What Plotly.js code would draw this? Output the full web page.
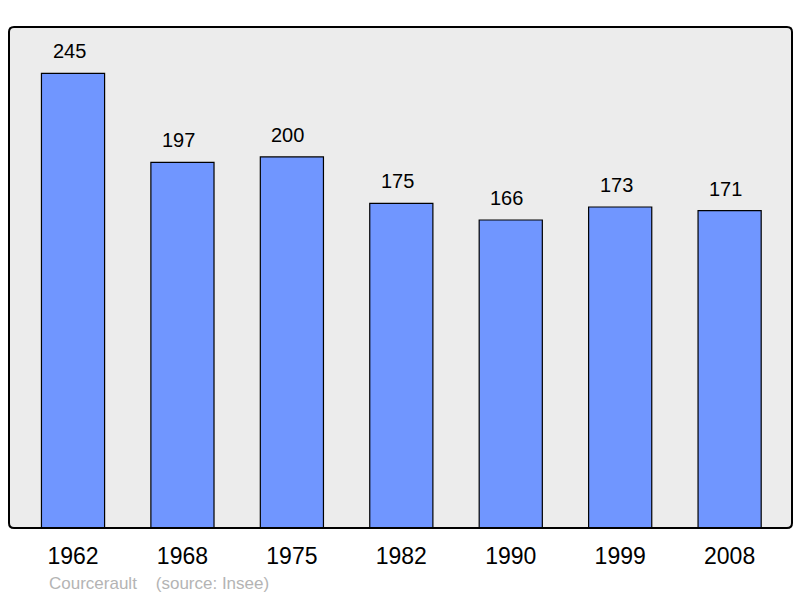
<!DOCTYPE html>
<html>
<head>
<meta charset="utf-8">
<script src="https://cdn.plot.ly/plotly-3.0.1.min.js"></script>
<style>html,body{margin:0;padding:0;background:#fff;}#chart{width:800px;height:598px;}</style>
</head>
<body>
<div id="chart"></div>
<script>
const years = ["1962", "1968", "1975", "1982", "1990", "1999", "2008"];
const population = [245, 197, 200, 175, 166, 173, 171];
const caption = "Courcerault\u00a0\u00a0\u00a0\u00a0(source: Insee)";

const W = 783, H = 501, r = 5;
const rx = r / W, ry = r / H;
const framePath = `M ${rx} 0 L ${1-rx} 0 Q 1 0 1 ${ry} L 1 ${1-ry} Q 1 1 ${1-rx} 1 L ${rx} 1 Q 0 1 0 ${1-ry} L 0 ${ry} Q 0 0 ${rx} 0 Z`;

const trace = {
  type: 'bar',
  x: years,
  y: population,
  width: 0.577,
  marker: {color: '#7096ff', line: {color: '#000000', width: 1.2}},
  hoverinfo: 'none'
};

const annotations = years.map((yr, i) => ({
  x: i, y: population[i], xref: 'x', yref: 'y',
  text: String(population[i]), showarrow: false,
  yanchor: 'middle', yshift: 22, xshift: -4,
  font: {family: 'Liberation Sans, Arial, sans-serif', size: 20, color: '#000'}
}));
annotations.push({
  xref: 'paper', yref: 'paper', x: 0.0485, y: -0.1098,
  xanchor: 'left', yanchor: 'middle', showarrow: false,
  text: caption,
  font: {family: 'Liberation Sans, Arial, sans-serif', size: 17, color: '#b4b4b4'}
});

const layout = {
  width: 800, height: 598,
  margin: {l: 9, r: 8, t: 27, b: 70, pad: 0},
  paper_bgcolor: '#ffffff',
  plot_bgcolor: '#ececec',
  showlegend: false,
  xaxis: {
    type: 'category', range: [-0.585, 6.57],
    showgrid: false, zeroline: false, showline: false, ticks: '',
    tickfont: {family: 'Liberation Sans, Arial, sans-serif', size: 23, color: '#000'},
    ticklabelstandoff: 12
  },
  yaxis: {
    range: [0, 270], showgrid: false, zeroline: false, showline: false,
    showticklabels: false, ticks: ''
  },
  shapes: [{
    type: 'path', xref: 'paper', yref: 'paper', path: framePath,
    line: {color: '#000', width: 2}, fillcolor: 'rgba(0,0,0,0)', layer: 'above'
  }],
  annotations: annotations
};

Plotly.newPlot('chart', [trace], layout, {staticPlot: true, displayModeBar: false});
</script>
</body>
</html>
